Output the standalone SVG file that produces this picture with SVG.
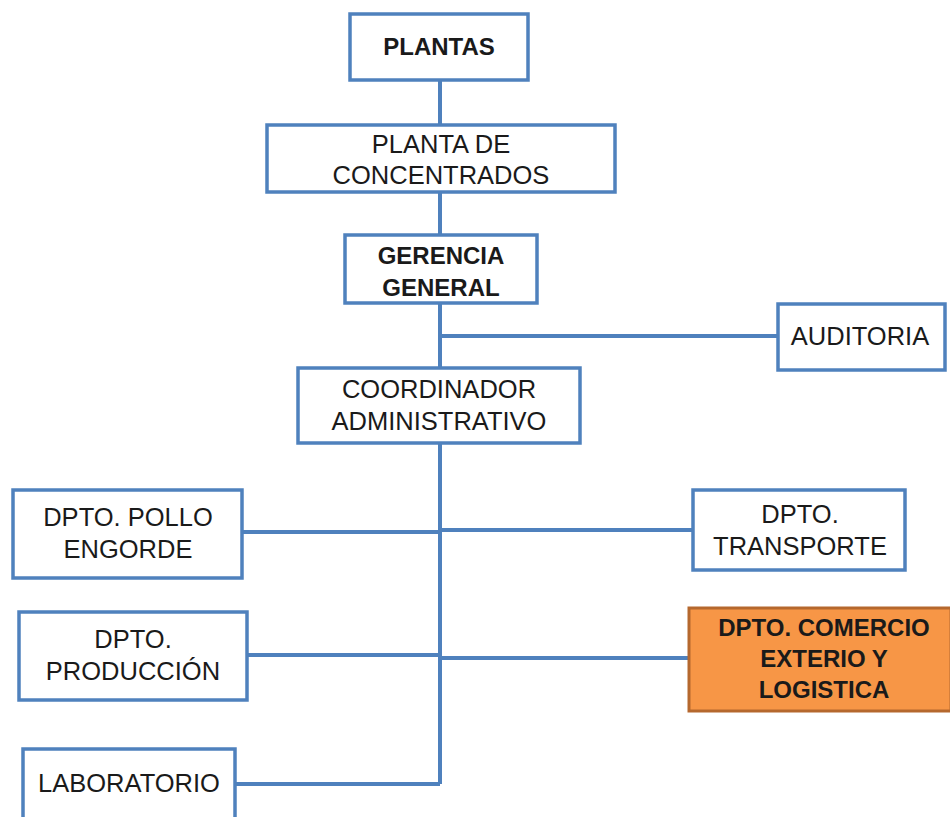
<svg xmlns="http://www.w3.org/2000/svg" width="950" height="817" viewBox="0 0 950 817">
<style>
.box{fill:#fff;stroke:#4F81BD;stroke-width:3.5}
.hl{fill:#F79646;stroke:#B5682E;stroke-width:3}
.conn{fill:none;stroke:#4F81BD;stroke-width:4}
text{font-family:"Liberation Sans",Arial,sans-serif;font-size:25.5px;fill:#1a1a1a;text-anchor:middle}
.b{font-weight:bold;font-size:24px}
</style>
<rect width="950" height="817" fill="#fff"/>
<g id="connectors">
<path class="conn" d="M440 80 V784"/>
<path class="conn" d="M440 336 H778"/>
<path class="conn" d="M242 532 H440"/>
<path class="conn" d="M440 530 H693"/>
<path class="conn" d="M247 655 H440"/>
<path class="conn" d="M440 658 H689"/>
<path class="conn" d="M235 784 H440"/>
</g>
<g id="plantas">
<rect class="box" x="350" y="14" width="178" height="66"/>
<text class="b" x="439" y="55">PLANTAS</text>
</g>
<g id="planta-concentrados">
<rect class="box" x="267" y="125" width="348" height="67"/>
<text x="441" y="153">PLANTA DE</text>
<text x="441" y="184">CONCENTRADOS</text>
</g>
<g id="gerencia-general">
<rect class="box" x="345" y="235" width="192" height="68"/>
<text class="b" x="441" y="264">GERENCIA</text>
<text class="b" x="441" y="296">GENERAL</text>
</g>
<g id="auditoria">
<rect class="box" x="778" y="304" width="167" height="66"/>
<text x="860" y="345">AUDITORIA</text>
</g>
<g id="coordinador">
<rect class="box" x="298" y="368" width="282" height="75"/>
<text x="439" y="398">COORDINADOR</text>
<text x="439" y="430">ADMINISTRATIVO</text>
</g>
<g id="pollo-engorde">
<rect class="box" x="13" y="490" width="229" height="88"/>
<text x="128" y="526">DPTO. POLLO</text>
<text x="128" y="558">ENGORDE</text>
</g>
<g id="transporte">
<rect class="box" x="693" y="490" width="212" height="80"/>
<text x="800" y="523">DPTO.</text>
<text x="800" y="555">TRANSPORTE</text>
</g>
<g id="produccion">
<rect class="box" x="19" y="612" width="228" height="88"/>
<text x="133" y="648">DPTO.</text>
<text x="133" y="680">PRODUCCIÓN</text>
</g>
<g id="comercio-exterior">
<rect class="hl" x="689" y="608" width="262" height="103"/>
<text class="b" x="824" y="636">DPTO. COMERCIO</text>
<text class="b" x="824" y="667">EXTERIO Y</text>
<text class="b" x="824" y="698">LOGISTICA</text>
</g>
<g id="laboratorio">
<rect class="box" x="23" y="749" width="212" height="80"/>
<text x="129" y="792">LABORATORIO</text>
</g>
</svg>
